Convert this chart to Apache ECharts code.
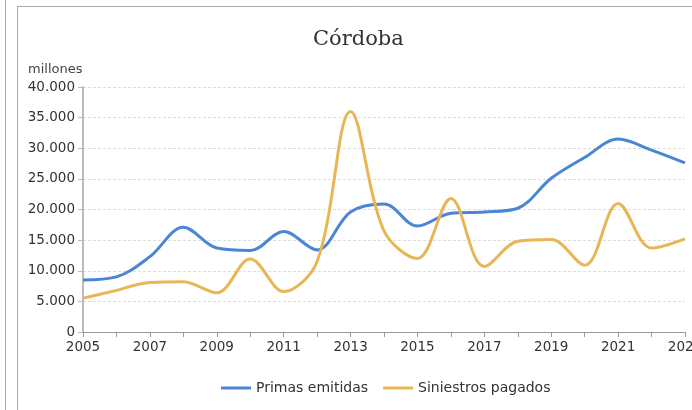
<!DOCTYPE html>
<html lang="es">
<head>
    <meta charset="utf-8">
    <title>Córdoba</title>
    <script src="https://cdn.jsdelivr.net/npm/echarts@6/dist/echarts.min.js"></script>
    <style>
        html, body { margin: 0; padding: 0; background: #fff; }
        #main { width: 692px; height: 410px; }
    </style>
</head>
<body>
    <div id="main"></div>
    <script type="text/javascript">
        // datos (millones)
        var years = ['2005','2006','2007','2008','2009','2010','2011','2012','2013','2014',
                     '2015','2016','2017','2018','2019','2020','2021','2022','2023'];
        var primas = [8500, 9000, 12300, 17100, 13700, 13300, 16400, 13400, 19600, 20900,
                      17300, 19400, 19600, 20200, 25100, 28500, 31500, 29700, 27600];
        var siniestros = [5500, 6800, 8100, 8200, 6400, 11900, 6600, 11500, 36000, 16500,
                          12000, 21800, 10700, 14800, 15100, 10900, 21000, 13700, 15200];
        var yTicks = [0, 5000, 10000, 15000, 20000, 25000, 30000, 35000, 40000];

        var font = 'DejaVu Sans';
        var myChart = echarts.init(document.getElementById('main'));

        function fmt(v) {
            return String(v).replace(/\B(?=(\d{3})+(?!\d))/g, '.');
        }

        myChart.setOption({
            animation: false,
            title: {
                text: 'Córdoba',
                left: 308,
                top: 24,
                textStyle: { fontFamily: 'DejaVu Serif', fontWeight: 'normal', fontSize: 21, color: '#333' }
            },
            graphic: [
                { type: 'line', shape: { x1: 5.5, y1: 0, x2: 5.5, y2: 410 }, style: { stroke: '#aaa', lineWidth: 1 } },
                { type: 'line', shape: { x1: 17.5, y1: 6, x2: 17.5, y2: 410 }, style: { stroke: '#aaa', lineWidth: 1 } },
                { type: 'line', shape: { x1: 17, y1: 6.5, x2: 692, y2: 6.5 }, style: { stroke: '#aaa', lineWidth: 1 } },
                { type: 'text', left: 28, top: 63, style: { text: 'millones', font: '13px "' + font + '"', fill: '#444' } }
            ],
            legend: {
                data: ['Primas emitidas', 'Siniestros pagados'],
                left: 216,
                top: 376,
                icon: 'rect',
                itemWidth: 30,
                itemHeight: 3,
                itemGap: 15,
                textStyle: { fontFamily: font, fontSize: 14, color: '#333' }
            },
            grid: { left: 83, right: 7, top: 87, bottom: 78, outerBoundsMode: 'none' },
            xAxis: {
                type: 'category',
                data: years,
                boundaryGap: false,
                axisLine: { lineStyle: { color: '#999' } },
                axisTick: { interval: 0, length: 5, lineStyle: { color: '#999' } },
                axisLabel: { interval: 1, fontFamily: font, fontSize: 13.5, color: '#333', margin: 8 }
            },
            yAxis: {
                type: 'value',
                min: yTicks[0],
                max: yTicks[yTicks.length - 1],
                interval: yTicks[1] - yTicks[0],
                axisLine: { show: true, lineStyle: { color: '#bbb', width: 2 } },
                axisTick: { show: true, length: 5, lineStyle: { color: '#bbb' } },
                axisLabel: { formatter: fmt, fontFamily: font, fontSize: 13.5, color: '#333', margin: 8 },
                splitLine: { lineStyle: { color: '#ddd', type: [3, 2] } }
            },
            series: [
                {
                    name: 'Primas emitidas',
                    type: 'line',
                    data: primas,
                    smooth: 0.35,
                    showSymbol: false,
                    color: '#4a86d4',
                    lineStyle: { width: 3 }
                },
                {
                    name: 'Siniestros pagados',
                    type: 'line',
                    data: siniestros,
                    smooth: 0.35,
                    showSymbol: false,
                    color: '#e9b655',
                    lineStyle: { width: 3 }
                }
            ]
        });
    </script>
</body>
</html>
